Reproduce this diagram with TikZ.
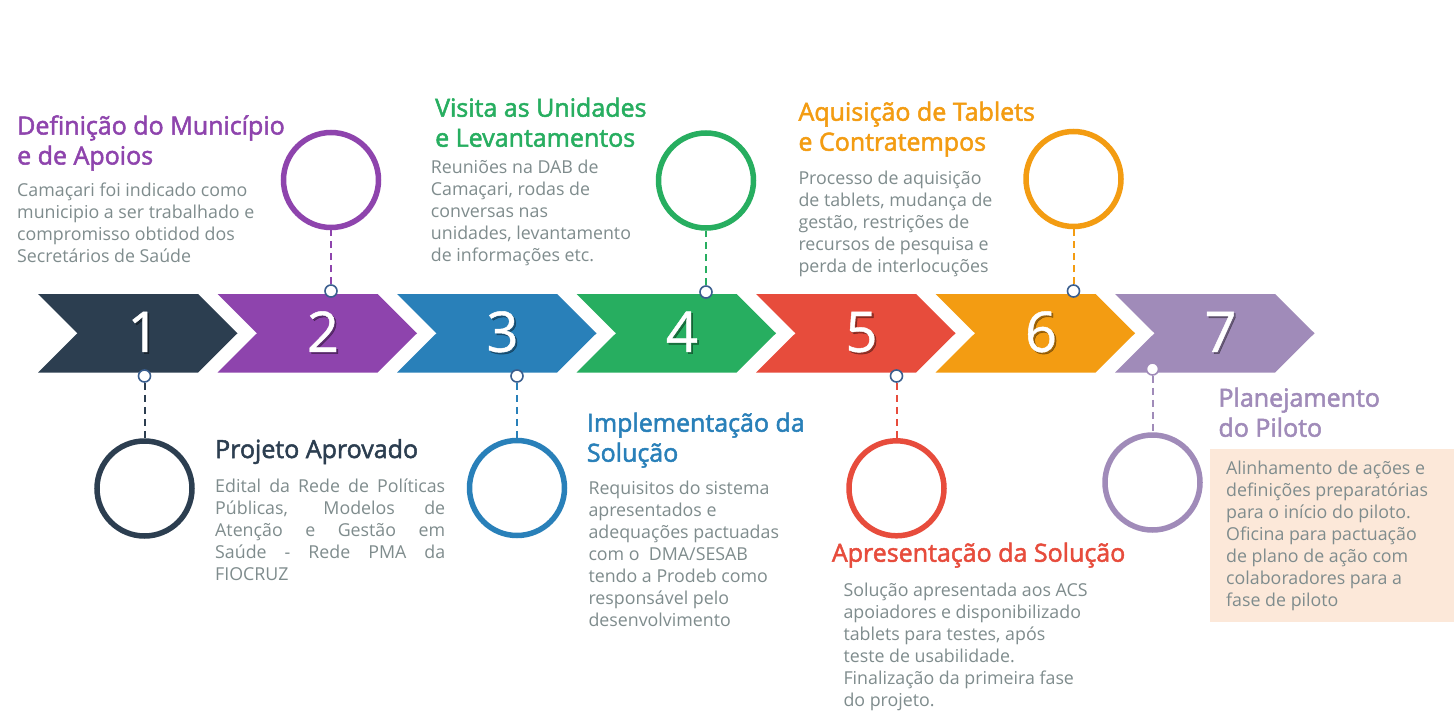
\documentclass[tikz,border=0pt]{standalone}
\usepackage{fontspec}
\setmainfont{Open Sans}
\newfontfamily\titlefont{Open Sans}[FakeBold=2]
\newfontfamily\digitfont{Open Sans}[FakeBold=0.8]
\definecolor{c1}{HTML}{2C3E50}
\definecolor{c2}{HTML}{8E44AD}
\definecolor{c3}{HTML}{2980B9}
\definecolor{c4}{HTML}{27AE60}
\definecolor{c5}{HTML}{E74C3C}
\definecolor{c6}{HTML}{F39C12}
\definecolor{c7}{HTML}{A08BB9}
\definecolor{bodygray}{HTML}{7F8C8D}
\definecolor{peach}{HTML}{FCE8D9}
\definecolor{dotblue}{HTML}{3A5E8E}
\tikzset{
  digit/.style={anchor=base, inner sep=0pt, text=white, font=\digitfont\fontsize{56}{56}\selectfont},
  digitshadow/.style={anchor=base, inner sep=0pt, text=black, opacity=0.35, font=\digitfont\fontsize{56}{56}\selectfont},
  ring/.style={circle, draw=#1, line width=5.5pt, minimum size=95pt, inner sep=0pt},
  dot/.style={circle, draw=#1, fill=white, line width=1.6pt, minimum size=12pt, inner sep=0pt},
  link/.style={draw=#1, line width=2pt, dash pattern=on 7pt off 5pt},
  ttl/.style={anchor=base west, inner sep=0pt, align=left, text=#1, font=\titlefont\fontsize{25}{30}\selectfont},
  bodytext/.style={anchor=base west, inner sep=0pt, align=left, text=bodygray, font=\fontsize{17.8}{22}\selectfont},
}
\begin{document}
\begin{tikzpicture}[x=1pt,y=-1pt]
\useasboundingbox[fill=white] (0,0) rectangle (1454,725);
% chevrons
\foreach \i/\c/\n in {0/c1/1,1/c2/2,2/c3/3,3/c4/4,4/c5/5,5/c6/6,6/c7/7}{
  \pgfmathsetmacro\xo{38+179.5*\i}
  \fill[\c] (\xo,294) -- ++(160,0) -- ++(39.5,39.25) -- ++(-39.5,39.25) -- ++(-160,0) -- ++(39.5,-39.25) -- cycle;
  \node[digitshadow] (ds\n) at (\xo+107.3,353.6) {\n};
  \node[digit] (d\n) at (\xo+105.5,351.8) {\n};
}
% peach box
\fill[peach] (1210,449.3) rectangle (1454,621.7);
% rings
\node[ring=c1] (r1) at (144.5,488.5) {};
\node[ring=c2] (r2) at (331,180) {};
\node[ring=c3] (r3) at (517,488) {};
\node[ring=c4] (r4) at (706,180.5) {};
\node[ring=c5] (r5) at (896.5,488.3) {};
\node[ring=c6] (r6) at (1073.5,179) {};
\node[ring=c7] (r7) at (1152.5,482.5) {};
% small dots
\node[dot=dotblue] (s1) at (144.5,376) {};
\node[dot=dotblue] (s2) at (331,291) {};
\node[dot=dotblue] (s3) at (517,376) {};
\node[dot=dotblue] (s4) at (706,292) {};
\node[dot=dotblue] (s5) at (896.5,376) {};
\node[dot=dotblue] (s6) at (1073.5,291) {};
\node[dot=c7] (s7) at (1152.5,369) {};
% dashed links
\draw[link=c1] (s1) -- (r1);
\draw[link=c2] (s2) -- (r2);
\draw[link=c3] (s3) -- (r3);
\draw[link=c4] (s4) -- (r4);
\draw[link=c5] (s5) -- (r5);
\draw[link=c6] (s6) -- (r6);
\draw[link=c7] (s7) -- (r7);
% texts (anchor = baseline of the last line)
\node[ttl=c2] (t1) at (17,164.5) {Definição do Município\\e de Apoios};
\node[bodytext] (b1) at (17,262) {Camaçari foi indicado como\\municipio a ser trabalhado e\\compromisso obtidod dos\\Secretários de Saúde};
\node[ttl=c4] (t2) at (435,146.7) {Visita as Unidades\\e Levantamentos};
\node[bodytext] (b2) at (430.7,261.7) {Reuniões na DAB de\\Camaçari, rodas de\\conversas nas\\unidades, levantamento\\de informações etc.};
\node[ttl=c6] (t3) at (798.3,150.7) {Aquisição de Tablets\\e Contratempos};
\node[bodytext] (b3) at (798.3,272.7) {Processo de aquisição\\de tablets, mudança de\\gestão, restrições de\\recursos de pesquisa e\\perda de interlocuções};
\node[ttl=c1] (t4) at (215,458) {Projeto Aprovado};
\node[bodytext] (b4) at (215,580) {\makebox[230pt][s]{Edital da Rede de Políticas}\\\makebox[230pt][s]{Públicas, Modelos de}\\\makebox[230pt][s]{Atenção e Gestão em}\\\makebox[230pt][s]{Saúde - Rede PMA da}\\FIOCRUZ};
\node[ttl=c3] (t5) at (586.7,461.7) {Implementação da\\Solução};
\node[bodytext] (b5) at (588.3,626) {Requisitos do sistema\\apresentados e\\adequações pactuadas\\com o\ \ DMA/SESAB\\tendo a Prodeb como\\responsável pelo\\desenvolvimento};
\node[ttl=c5] (t6) at (831.7,561.7) {Apresentação da Solução};
\node[bodytext] (b6) at (843.3,706.7) {Solução apresentada aos ACS\\apoiadores e disponibilizado\\tablets para testes, após\\teste de usabilidade.\\Finalização da primeira fase\\do projeto.};
\node[ttl=c7] (t7) at (1218.3,436.7) {Planejamento\\do Piloto};
\node[bodytext] (b7) at (1226,606.7) {Alinhamento de ações e\\definições preparatórias\\para o início do piloto.\\Oficina para pactuação\\de plano de ação com\\colaboradores para a\\fase de piloto};
\end{tikzpicture}
\end{document}
